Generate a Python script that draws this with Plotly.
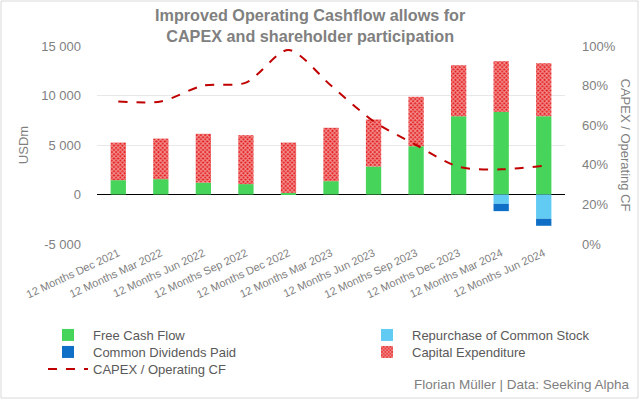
import plotly.graph_objects as go

categories = ["12 Months Dec 2021", "12 Months Mar 2022", "12 Months Jun 2022", "12 Months Sep 2022",
              "12 Months Dec 2022", "12 Months Mar 2023", "12 Months Jun 2023", "12 Months Sep 2023",
              "12 Months Dec 2023", "12 Months Mar 2024", "12 Months Jun 2024"]
free_cash_flow = [1450, 1550, 1200, 1050, 170, 1350, 2830, 4880, 7910, 8350, 7910]
capex = [3800, 4100, 4930, 4940, 5080, 5390, 4750, 4990, 5150, 5120, 5350]
repurchase = [0, 0, 0, 0, 0, 0, 0, 0, 0, -940, -2450]
dividends = [0, 0, 0, 0, 0, 0, 0, 0, 0, -740, -710]
capex_ratio = [0.72, 0.72, 0.80, 0.815, 0.98, 0.80, 0.62, 0.50, 0.39, 0.377, 0.395]

left_ticks = [-5000, 0, 5000, 10000, 15000]
left_labels = ["-5 000", "0", "5 000", "10 000", "15 000"]
right_ticks = [0, 0.2, 0.4, 0.6, 0.8, 1.0]
right_labels = ["0%", "20%", "40%", "60%", "80%", "100%"]

gray = "#7F7F7F"
fig = go.Figure()
fig.add_trace(go.Bar(x=categories, y=free_cash_flow, name="Free Cash Flow", legend="legend",
                     marker=dict(color="#47D45A", line=dict(width=0))))
fig.add_trace(go.Bar(x=categories, y=repurchase, name="Repurchase of Common Stock", legend="legend2",
                     marker=dict(color="#61CBF4", line=dict(width=0))))
fig.add_trace(go.Bar(x=categories, y=dividends, name="Common Dividends Paid", legend="legend3",
                     marker=dict(color="#0F6FC6", line=dict(width=0))))
fig.add_trace(go.Bar(x=categories, y=capex, name="Capital Expenditure", legend="legend4",
                     marker=dict(color="#E41E1E", line=dict(width=0),
                                 pattern=dict(shape="x", fgcolor="white", bgcolor="#E41E1E",
                                              size=3, solidity=0.6))))
fig.add_trace(go.Scatter(x=categories, y=capex_ratio, name="CAPEX / Operating CF", yaxis="y2",
                         legend="legend5", mode="lines",
                         line=dict(color="#C00000", width=2, dash="dash", shape="spline", smoothing=0.8)))

legend_common = dict(orientation="v", xanchor="left", yanchor="top", tracegroupgap=0,
                     font=dict(size=13, color="#595959"), traceorder="normal",
                     bgcolor="rgba(0,0,0,0)", itemwidth=40)


def lx(px):
    return (px - 50 - 97) / 468


def ly(py):
    return -(py - 15 - 244) / 198


fig.update_layout(
    width=640, height=400,
    barmode="relative", bargap=0.64,
    paper_bgcolor="white", plot_bgcolor="white",
    margin=dict(l=97, r=75, t=46, b=156, autoexpand=False),
    font=dict(family="Liberation Sans, Arial", color=gray, size=13),
    xaxis=dict(tickangle=-25, tickfont=dict(size=11, color=gray), showgrid=False,
               showline=False, ticks="", automargin=False),
    yaxis=dict(range=[-5000, 15000], tickvals=left_ticks, ticktext=left_labels,
               showgrid=True, gridcolor="#E8E8E8", zeroline=True, zerolinecolor="black",
               zerolinewidth=1.3, title=dict(text="USDm", font=dict(size=13, color=gray), standoff=9),
               tickfont=dict(size=13, color=gray), ticklabelstandoff=15, automargin=False),
    yaxis2=dict(range=[0, 1], overlaying="y", side="right", tickvals=right_ticks,
                ticktext=right_labels, showgrid=False, zeroline=False,
                tickfont=dict(size=13, color=gray), ticklabelstandoff=16, automargin=False),
    legend=dict(x=lx(93), y=ly(335), **legend_common),
    legend2=dict(x=lx(412), y=ly(335), **legend_common),
    legend3=dict(x=lx(93), y=ly(352), **legend_common),
    legend4=dict(x=lx(412), y=ly(352), **legend_common),
    legend5=dict(x=lx(93), y=ly(369), **legend_common),
    showlegend=True,
)

fig.add_annotation(text="<b>Improved Operating Cashflow allows for<br>CAPEX and shareholder participation</b>",
                   xref="paper", yref="paper", x=(310 - 97) / 468, y=(244 - 25) / 198,
                   xanchor="center", yanchor="middle", showarrow=False,
                   font=dict(family="Liberation Sans Narrow, Liberation Sans", size=16.2, color="#808080"))
fig.add_annotation(text="CAPEX / Operating CF", xref="paper", yref="paper", x=1.0, y=0.5,
                   xshift=70, textangle=90, showarrow=False, font=dict(size=13, color=gray))
fig.add_annotation(text="Florian Müller | Data: Seeking Alpha", xref="paper", yref="paper",
                   x=1.0, xshift=67, y=-(384 - 244) / 198, xanchor="right", yanchor="middle",
                   showarrow=False, font=dict(size=13.5, color=gray))

# figure border
pw, ph = 640 - 97 - 75, 400 - 46 - 156
fig.add_shape(type="rect", xref="paper", yref="paper",
              x0=(1 - 97) / pw, x1=(638 - 97) / pw,
              y0=-(398 - 244) / ph, y1=(244 - 1) / ph,
              line=dict(color="#D9D9D9", width=1), fillcolor="rgba(0,0,0,0)", layer="below")

fig.write_html("out.html", config={"displayModeBar": False},
               post_script="document.body.style.margin='0';")
